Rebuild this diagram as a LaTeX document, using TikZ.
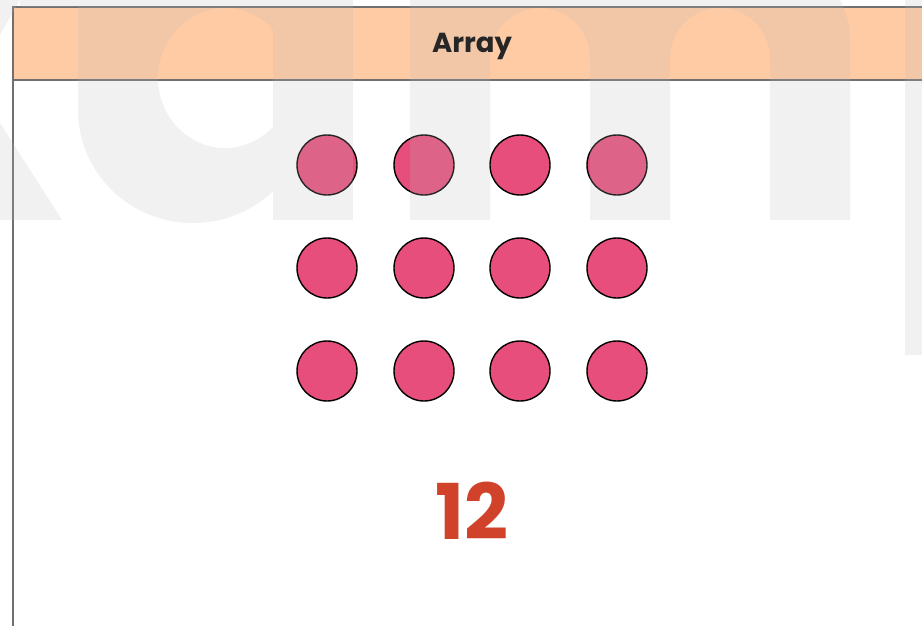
\documentclass[tikz,border=0pt]{standalone}
\usepackage{fontspec}
\setmainfont{Poppins}
\definecolor{hdr}{HTML}{FFCBA4}
\definecolor{frame}{HTML}{707070}
\definecolor{dot}{HTML}{E84E7C}
\definecolor{numred}{HTML}{D0422A}
\definecolor{wm}{RGB}{186,186,186}
\tikzset{
  dotnode/.style={circle,draw=black,line width=1.4pt,fill=dot,minimum size=60pt,inner sep=0pt},
  wmfill/.style={fill=wm,fill opacity=0.2}
}
\begin{document}
\begin{tikzpicture}[x=1pt,y=-1pt]
\useasboundingbox (0,0) rectangle (922,625);
\clip (0,0) rectangle (922,625);
\fill[white] (0,0) rectangle (922,625);
% header
\path[fill=hdr] (13,7) rectangle (930,80);
\draw[frame,line width=1.5pt] (930,7) -- (13,7) -- (13,630);
\draw[frame,line width=1.5pt] (13,80) -- (930,80);
% dots
\foreach \r/\yy in {1/165,2/268,3/371}{
  \foreach \c/\xx in {1/327,2/424,3/520,4/617}{
    \node[dotnode] (d\r\c) at (\xx,\yy) {};
  }
}
% watermark letters (k, a, m, p)
% k arm and leg
\fill[wmfill] (-10,-10) -- (25.7,-10) -- (0,35) -- (-10,35) -- cycle;
\fill[wmfill] (-10,107) -- (0,123) -- (62,220) -- (-10,220) -- cycle;
% strip at the very top
\fill[wmfill] (20,-10) rectangle (78,7);
% a: bowl with counter
\begin{scope}
  \clip (0,-200) rectangle (273,400);
  \fill[wmfill,even odd rule] (78,-150) -- (78,110)
     arc[start angle=180,end angle=45.9,x radius=115,y radius=113]
     -- (273,-150) -- cycle
     (225,78) ellipse [x radius=67,y radius=70];
\end{scope}
% a: stem
\fill[wmfill] (273,-150) rectangle (353,220);
% m
\fill[wmfill,even odd rule] (410,220) -- (410,-150) -- (760,-150) -- (760,-49)
     arc[start angle=-90,end angle=0,radius=90] -- (850,220) -- cycle
     (490,220) -- (490,58) arc[start angle=180,end angle=360,radius=50] -- (590,220) -- cycle
     (670,220) -- (670,58) arc[start angle=180,end angle=360,radius=50] -- (770,220) -- cycle;
% p stem
\fill[wmfill] (905,-150) rectangle (940,355);
% texts
\node[font=\fontsize{27.5}{27.5}\selectfont\bfseries,text=black!85] (title) at (472,46.5) {Array};
\node[font=\fontsize{77}{77}\selectfont\bfseries,text=numred] (num) at (472,511) {12};
\end{tikzpicture}
\end{document}
